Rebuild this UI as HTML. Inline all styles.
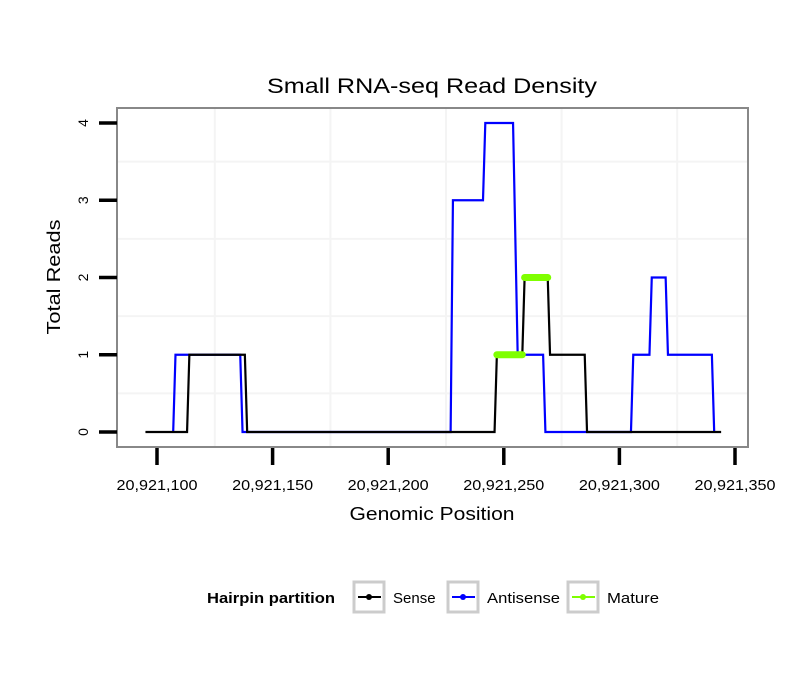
<!DOCTYPE html>
<html><head><meta charset="utf-8"><style>
body{margin:0;background:#fff;width:810px;height:690px;overflow:hidden}
svg{font-family:"Liberation Sans",sans-serif}
</style></head><body>
<svg id="chart" width="810" height="690">
<text x="432" y="93" font-size="21" text-anchor="middle" textLength="330" lengthAdjust="spacingAndGlyphs">Small RNA-seq Read Density</text>
<rect x="117" y="108" width="631" height="339" fill="#fff"/>
<g id="grid"></g>
<g id="series"></g>
<rect x="117" y="108" width="631" height="339" fill="none" stroke="#888" stroke-width="2"/>
<g id="axes"></g>
<text x="432" y="520" font-size="18" text-anchor="middle" textLength="165" lengthAdjust="spacingAndGlyphs">Genomic Position</text>
<text transform="translate(60,277) rotate(-90)" font-size="18" text-anchor="middle" textLength="115" lengthAdjust="spacingAndGlyphs">Total Reads</text>
<g>
<text x="207" y="603" font-size="15" font-weight="bold" textLength="128" lengthAdjust="spacingAndGlyphs">Hairpin partition</text>
<g>
<rect x="354" y="582" width="30" height="30" fill="none" stroke="#ccc" stroke-width="3"/>
<line x1="358" y1="597" x2="381" y2="597" stroke="#000" stroke-width="2"/><circle cx="369" cy="597" r="3" fill="#000"/>
<text x="393" y="603" font-size="15">Sense</text></g>
<g>
<rect x="448" y="582" width="30" height="30" fill="none" stroke="#ccc" stroke-width="3"/>
<line x1="452" y1="597" x2="475" y2="597" stroke="#00f" stroke-width="2"/><circle cx="463" cy="597" r="3" fill="#00f"/>
<text x="487" y="603" font-size="15" textLength="73" lengthAdjust="spacingAndGlyphs">Antisense</text></g>
<g>
<rect x="568" y="582" width="30" height="30" fill="none" stroke="#ccc" stroke-width="3"/>
<line x1="572" y1="597" x2="595" y2="597" stroke="#7fff00" stroke-width="2"/><circle cx="583" cy="597" r="3" fill="#7fff00"/>
<text x="607" y="603" font-size="15" textLength="52" lengthAdjust="spacingAndGlyphs">Mature</text></g>
</g>
</svg>
<script>
const senseX=[95,113,114,138,139,246,247,258,259,269,270,285,286,344];
const senseY=[0,0,1,1,0,0,1,1,2,2,1,1,0,0];
const antiX=[107,108,136,137,227,228,241,242,254,256,267,268,305,306,313,314,320,321,340,341];
const antiY=[0,1,1,0,0,3,3,4,4,1,1,0,0,1,1,2,2,1,1,0];
const matureStart=[247,259];
const matureEnd=[258,269];
const matureY=[1,2];
const xTicks=[100,150,200,250,300,350];
const xTickLabels=["20,921,100","20,921,150","20,921,200","20,921,250","20,921,300","20,921,350"];
const yTicks=[0,1,2,3,4];
const NS="http://www.w3.org/2000/svg";
function sx(v){return 157+(v-100)*2.312;}
function sy(v){return 432-v*77.25;}
function mk(tag,attrs,parent){const e=document.createElementNS(NS,tag);for(const k in attrs)e.setAttribute(k,attrs[k]);parent.appendChild(e);return e;}
const grid=document.getElementById('grid'),series=document.getElementById('series'),axes=document.getElementById('axes');
[75,125,175,225,275,325].forEach(v=>{const x=sx(v);if(x>117&&x<748){const l=mk('line',{x1:x,x2:x,y1:109,y2:446,stroke:'#f4f4f4','stroke-width':2},grid);

}});
[0.5,1.5,2.5,3.5].forEach(v=>{const l=mk('line',{x1:118,x2:747,y1:sy(v),y2:sy(v),stroke:'#f4f4f4','stroke-width':2},grid);

});
function poly(xs,ys,color,name){const p=mk('polyline',{points:xs.map((x,i)=>sx(x)+','+sy(ys[i])).join(' '),fill:'none',stroke:color,'stroke-width':2.2},series);

}
poly(antiX,antiY,'#0000ff','antisense-line');
poly(senseX,senseY,'#000','sense-line');
matureStart.forEach((s,i)=>{const l=mk('line',{x1:sx(s),x2:sx(matureEnd[i]),y1:sy(matureY[i]),y2:sy(matureY[i]),stroke:'#7fff00','stroke-width':7,'stroke-linecap':'round'},series);

});
xTicks.forEach((v,i)=>{const x=sx(v);const t=mk('line',{x1:x,x2:x,y1:448,y2:465,stroke:'#000','stroke-width':3.5},axes);


const tx=mk('text',{x:x,y:490,'font-size':15,'text-anchor':'middle',textLength:81,lengthAdjust:'spacingAndGlyphs'},axes);tx.textContent=xTickLabels[i];

});
yTicks.forEach(v=>{const y=sy(v);const t=mk('line',{x1:99,x2:117,y1:y,y2:y,stroke:'#000','stroke-width':3.5},axes);


const tx=mk('text',{transform:'translate(88,'+y+') rotate(-90)','font-size':14,'text-anchor':'middle'},axes);tx.textContent=v;

});
</script>
</body></html>
